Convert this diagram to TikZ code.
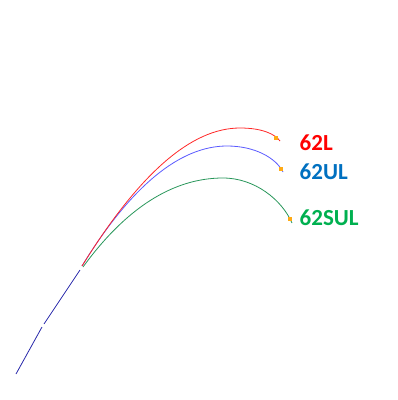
\documentclass[tikz,border=0pt]{standalone}
\usepackage{fontspec}
\setmainfont{Carlito}
\definecolor{redline}{RGB}{255,40,40}
\definecolor{blueline}{RGB}{90,90,255}
\definecolor{greenline}{RGB}{40,150,90}
\definecolor{navyline}{RGB}{40,40,170}
\definecolor{bluetext}{RGB}{0,112,192}
\definecolor{greentext}{RGB}{0,176,80}
\definecolor{markfill}{RGB}{255,170,20}
\begin{document}
\begin{tikzpicture}[x=1pt,y=-1pt,line width=0.8pt,
  tag/.style={anchor=west,font=\bfseries\fontsize{23}{27}\selectfont},
  endmark/.style={fill=markfill,inner sep=0pt,minimum size=3.2pt}]
\useasboundingbox (0,0) rectangle (398,400);
% launch segment
\draw[navyline] (16,374) -- (42,327);
\draw[navyline] (44,324) -- (80,270);
% trajectories
\draw[greenline] (83,267) .. controls (126,208) and (173,178) .. (223,178)
  .. controls (255,178) and (282,200) .. (292,223) coordinate (gEnd);
\draw[blueline] (82,266) .. controls (131,186) and (180,146) .. (227,146)
  .. controls (255,146) and (276,158) .. (283,172) coordinate (bEnd);
\draw[redline] (82,266) .. controls (139,174) and (191,128) .. (240,128)
  .. controls (262,128) and (275,134) .. (280,141) coordinate (rEnd);
\node[endmark] (rMark) at (276,138) {};
\node[endmark] (bMark) at (281,169) {};
\node[endmark] (gMark) at (290,219) {};
\node[tag,text=red] (rTag) at (296,143) {62L};
\node[tag,text=bluetext] (bTag) at (296,172) {62UL};
\node[tag,text=greentext] (gTag) at (296,218) {62SUL};
\end{tikzpicture}
\end{document}
